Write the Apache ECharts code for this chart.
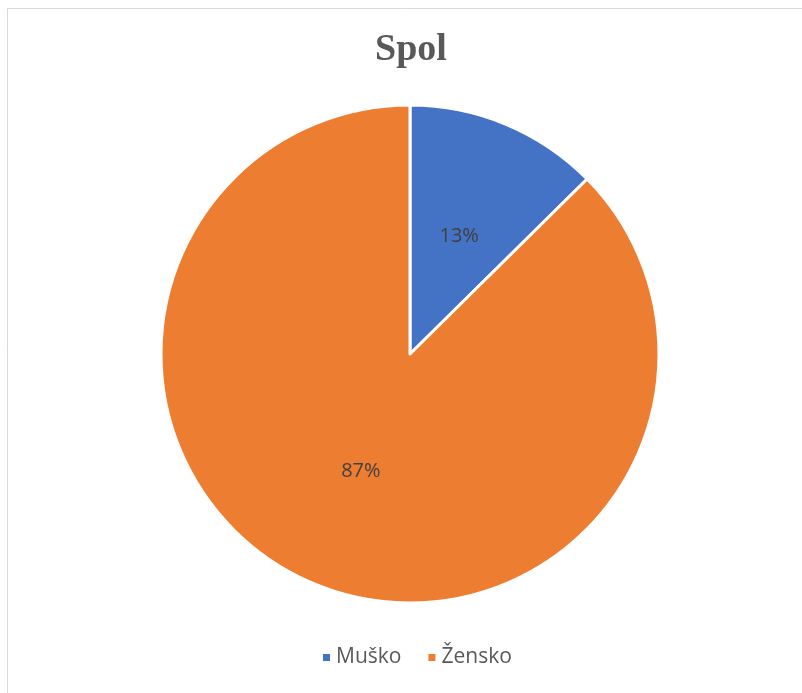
<!DOCTYPE html>
<html>
<head>
<meta charset="utf-8">
<script src="https://cdn.jsdelivr.net/npm/echarts@6/dist/echarts.min.js"></script>
<style>
html,body{margin:0;padding:0;background:#fff;}
#main{width:802px;height:693px;}
</style>
</head>
<body>
<div id="main"></div>
<script>
const categories = ['Muško', 'Žensko'];
const values = [12.6, 87.4];
const labels = ['13%', '87%'];
const colors = ['#4472C4', '#ED7D31'];

const chart = echarts.init(document.getElementById('main'));
chart.setOption({
  animation: false,
  backgroundColor: '#ffffff',
  title: {
    text: 'Spol',
    left: 370,
    top: 26,
    textStyle: {
      fontFamily: '"Liberation Serif", "Times New Roman", serif',
      fontWeight: 'bold',
      fontSize: 38,
      color: '#595959'
    }
  },
  graphic: [
    { type: 'line', shape: { x1: 7.5, y1: 8.5, x2: 802, y2: 8.5 }, style: { stroke: '#d9d9d9', lineWidth: 1 } },
    { type: 'line', shape: { x1: 7.5, y1: 8.5, x2: 7.5, y2: 693 }, style: { stroke: '#d9d9d9', lineWidth: 1 } }
  ],
  legend: {
    data: categories,
    bottom: 20,
    left: 316,
    icon: 'rect',
    itemWidth: 9,
    itemHeight: 9,
    itemGap: 25,
    textStyle: {
      fontFamily: '"Open Sans", "Liberation Sans", sans-serif',
      fontSize: 21,
      color: '#595959'
    }
  },
  series: [{
    type: 'pie',
    center: [410, 354],
    radius: [0, 249],
    startAngle: 90,
    clockwise: true,
    data: categories.map((c, i) => ({
      name: c,
      value: values[i],
      itemStyle: { color: colors[i] }
    })),
    itemStyle: { borderColor: '#ffffff', borderWidth: 3 },
    label: {
      position: 'inside',
      formatter: p => labels[p.dataIndex],
      fontFamily: '"Open Sans", "Liberation Sans", sans-serif',
      fontSize: 20,
      color: '#404040'
    },
    labelLine: { show: false },
    emphasis: { disabled: true }
  }]
});
</script>
</body>
</html>
